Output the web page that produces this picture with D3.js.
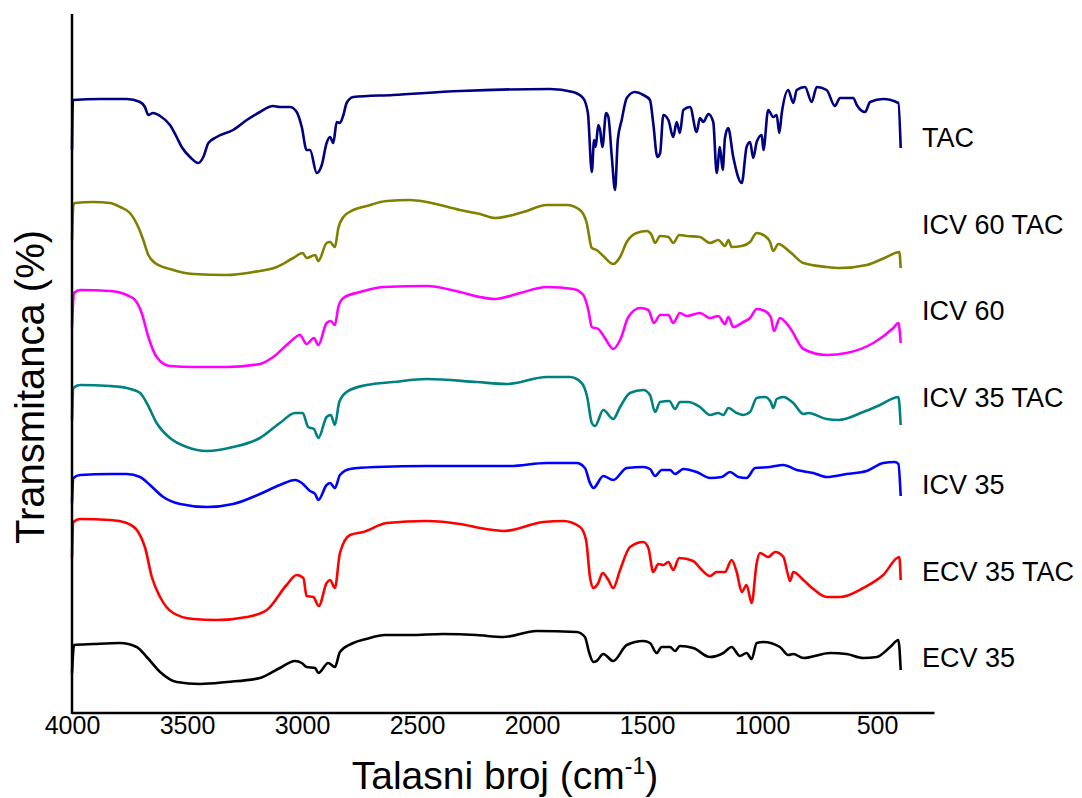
<!DOCTYPE html>
<html>
<head>
<meta charset="utf-8">
<script src="https://cdn.jsdelivr.net/npm/d3@7"></script>
<style>
  html, body { margin: 0; padding: 0; background: #fff; }
  svg { display: block; font-family: "Liberation Sans", Arial, sans-serif; }
</style>
</head>
<body>
<svg id="chart" width="1082" height="798"></svg>
<script>
// FTIR spectra, stacked: [wavenumber (cm-1), transmittance (a.u., offset)]
const seriesNames = ["TAC", "ICV 60 TAC", "ICV 60", "ICV 35 TAC", "ICV 35", "ECV 35 TAC", "ECV 35"];
const seriesColors = ["#000080", "#808000", "#ff00ff", "#008080", "#0000ff", "#ff0000", "#000000"];
const wavenumberTicks = [4000, 3500, 3000, 2500, 2000, 1500, 1000, 500];

const tac = [[4000,564],[3996,614],[3878,615],[3762,615],[3704,612],[3683,607],[3668,599],[3648,601],[3617,598],[3574,589],[3545,577],[3523,567],[3487,557],[3451,551],[3429,557],[3407,571],[3371,577],[3300,584],[3240,594],[3183,602],[3126,608],[3096,607],[3052,607],[3023,602],[3001,587],[2980,564],[2965,564],[2936,541],[2914,549],[2893,571],[2878,577],[2864,571],[2849,592],[2835,591],[2820,599],[2806,611],[2777,617],[2604,619],[2313,623],[1922,625],[1822,622],[1778,616],[1757,601],[1740,542],[1730,574],[1723,567],[1712,589],[1704,584],[1694,567],[1678,601],[1668,597],[1653,557],[1639,524],[1627,574],[1610,594],[1588,616],[1553,622],[1516,619],[1487,614],[1473,591],[1455,557],[1443,561],[1429,599],[1407,594],[1386,577],[1371,592],[1357,581],[1342,604],[1313,607],[1284,582],[1270,596],[1255,592],[1233,600],[1212,592],[1197,541],[1183,567],[1171,544],[1161,576],[1147,586],[1125,557],[1088,531],[1067,567],[1052,572],[1038,556],[1023,572],[1001,579],[994,564],[973,604],[951,597],[936,599],[925,581],[914,601],[886,624],[864,611],[849,624],[813,627],[784,612],[762,627],[719,624],[683,608],[661,616],[603,616],[588,609],[552,602],[530,612],[473,615],[407,611],[397,566]];

const icv60tac = [[4000,474],[3994,509],[3987,511],[3907,512],[3835,511],[3791,507],[3748,501],[3712,487],[3690,474],[3668,459],[3639,451],[3574,445],[3473,440],[3327,439],[3212,442],[3110,447],[3038,456],[2997,461],[2980,456],[2943,459],[2929,453],[2893,471],[2878,472],[2857,467],[2842,486],[2820,497],[2777,504],[2719,508],[2632,513],[2530,514],[2458,512],[2313,504],[2226,500],[2160,496],[2038,502],[1936,509],[1849,509],[1791,504],[1762,491],[1740,466],[1719,464],[1690,458],[1647,450],[1617,457],[1588,472],[1545,481],[1501,483],[1480,479],[1465,471],[1443,478],[1407,477],[1386,471],[1360,479],[1327,478],[1270,477],[1226,471],[1190,474],[1161,468],[1146,474],[1132,467],[1088,468],[1052,472],[1023,481],[987,478],[965,472],[951,463],[929,470],[878,462],[820,451],[719,447],[661,446],[545,449],[458,457],[403,462],[397,446]];

const icv60 = [[4000,387],[3991,421],[3965,424],[3835,423],[3762,419],[3726,414],[3697,401],[3668,377],[3632,357],[3574,348],[3473,347],[3327,347],[3183,350],[3125,357],[3052,372],[3009,379],[2980,370],[2948,376],[2929,369],[2893,391],[2875,393],[2857,389],[2842,407],[2820,416],[2748,422],[2646,427],[2458,428],[2313,422],[2226,417],[2160,415],[2052,421],[1936,427],[1820,425],[1777,419],[1755,404],[1740,387],[1712,385],[1683,376],[1647,365],[1617,374],[1581,397],[1530,406],[1494,404],[1470,391],[1443,399],[1407,399],[1386,391],[1357,401],[1327,398],[1270,401],[1226,396],[1190,398],[1161,390],[1146,397],[1125,387],[1081,392],[1052,396],[1023,405],[987,403],[962,397],[948,383],[922,396],[878,386],[820,365],[719,359],[632,361],[516,371],[429,386],[407,391],[397,371]];

const icv35tac = [[4000,294],[3994,326],[3965,329],[3835,328],[3762,326],[3704,321],[3675,311],[3632,291],[3574,276],[3501,267],[3414,263],[3299,267],[3183,276],[3096,291],[3030,301],[2997,301],[2973,287],[2948,285],[2929,276],[2893,297],[2875,299],[2857,289],[2838,312],[2806,322],[2719,329],[2603,332],[2458,335],[2240,332],[2110,330],[1936,337],[1835,337],[1784,331],[1760,317],[1740,291],[1726,288],[1690,304],[1647,295],[1617,307],[1574,321],[1516,324],[1487,319],[1465,302],[1443,312],[1403,313],[1378,305],[1357,312],[1320,312],[1270,307],[1226,299],[1190,301],[1168,299],[1146,306],[1110,301],[1081,299],[1052,302],[1023,316],[987,317],[962,312],[951,306],[936,315],[907,317],[864,311],[820,300],[799,301],[719,295],[668,294],[560,302],[487,309],[407,317],[397,289]];

const icv35 = [[4000,211],[3994,236],[3965,239],[3835,240],[3762,240],[3704,237],[3661,229],[3603,217],[3530,210],[3414,207],[3299,210],[3183,220],[3096,229],[3030,234],[3001,231],[2965,223],[2943,220],[2929,214],[2893,229],[2878,231],[2857,226],[2835,239],[2791,245],[2675,247],[2458,248],[2096,248],[1936,251],[1806,251],[1770,246],[1748,231],[1733,226],[1690,238],[1647,234],[1588,246],[1516,247],[1487,245],[1465,238],[1436,244],[1400,244],[1378,240],[1342,245],[1284,242],[1226,236],[1175,237],[1139,242],[1103,237],[1067,236],[1030,246],[965,247],[907,249],[849,244],[777,241],[719,237],[632,240],[545,243],[473,251],[422,252],[407,250],[397,218]];

const ecv35tac = [[4000,156],[3994,192],[3965,195],[3835,194],[3762,191],[3712,182],[3683,167],[3653,137],[3617,117],[3560,101],[3473,95],[3371,94],[3240,97],[3153,104],[3067,129],[3023,139],[2994,136],[2980,118],[2951,117],[2927,108],[2893,131],[2878,134],[2857,126],[2835,161],[2791,179],[2733,182],[2632,191],[2458,193],[2313,190],[2226,186],[2168,184],[2125,183],[1951,192],[1864,193],[1791,187],[1765,174],[1748,137],[1733,126],[1712,131],[1693,141],[1668,134],[1647,126],[1617,144],[1574,167],[1516,172],[1494,166],[1473,142],[1451,150],[1429,149],[1407,152],[1386,144],[1360,156],[1299,153],[1270,146],[1226,138],[1197,142],[1161,142],[1132,154],[1110,142],[1088,122],[1067,129],[1045,111],[1023,151],[1009,161],[973,157],[943,162],[907,157],[890,142],[878,133],[864,142],[820,134],[777,125],[719,117],[661,117],[560,126],[473,139],[403,157],[397,134]];

const ecv35 = [[4000,41],[3991,69],[3907,70],[3791,71],[3719,67],[3675,57],[3617,42],[3545,32],[3443,30],[3327,32],[3183,36],[3096,46],[3030,53],[3001,51],[2980,47],[2943,46],[2929,41],[2886,51],[2857,47],[2835,62],[2777,71],[2720,75],[2640,79],[2530,79],[2386,80],[2240,79],[2125,77],[1980,83],[1806,82],[1770,77],[1751,61],[1733,52],[1719,53],[1690,60],[1647,53],[1588,69],[1516,73],[1487,71],[1458,61],[1436,67],[1400,67],[1378,63],[1357,68],[1299,66],[1226,57],[1168,61],[1132,67],[1096,58],[1067,61],[1045,55],[1023,71],[994,72],[922,67],[886,59],[864,60],[820,56],[704,61],[632,60],[560,56],[501,57],[443,67],[407,74],[397,44]];

const seriesData = [tac, icv60tac, icv60, icv35tac, icv35, ecv35tac, ecv35];

const svg = d3.select("#chart");
const plot = { left: 72, right: 934.5, top: 14, bottom: 713 };

const x = d3.scaleLinear().domain([4000, 250]).range([plot.left, plot.right]);
const y = d3.scaleLinear().domain([0, 700]).range([714, 14]);

// spectra
const line = d3.line()
  .x(d => x(d[0]))
  .y(d => y(d[1]))
  .curve(d3.curveMonotoneX);

svg.append("g")
  .selectAll("path")
  .data(seriesData)
  .join("path")
  .attr("d", line)
  .attr("fill", "none")
  .attr("stroke", (d, i) => seriesColors[i])
  .attr("stroke-width", 2.6)
  .attr("stroke-linejoin", "round");

// x axis: labels only, no tick marks
const xAxis = d3.axisBottom(x)
  .tickValues(wavenumberTicks)
  .tickFormat(d3.format("d"))
  .tickSize(0)
  .tickPadding(3);

const gx = svg.append("g")
  .attr("transform", `translate(0,${plot.bottom})`)
  .call(xAxis);
gx.select(".domain")
  .attr("d", `M${plot.left},0H${plot.right}`)
  .attr("stroke", "#000")
  .attr("stroke-width", 2.5);
gx.selectAll(".tick text")
  .attr("font-family", "'Liberation Sans', Arial, sans-serif")
  .attr("font-size", 25)
  .attr("fill", "#000");

// left axis line (no ticks)
svg.append("line")
  .attr("x1", plot.left).attr("x2", plot.left)
  .attr("y1", plot.top).attr("y2", plot.bottom + 1)
  .attr("stroke", "#000")
  .attr("stroke-width", 2.5);

// series labels
svg.append("g")
  .selectAll("text")
  .data(seriesNames)
  .join("text")
  .attr("x", 922)
  .attr("y", (d, i) => 147 + i * 86.7)
  .attr("font-size", 27)
  .attr("fill", "#000")
  .text(d => d);

// axis titles
const xt = svg.append("text")
  .attr("x", 505)
  .attr("y", 789)
  .attr("text-anchor", "middle")
  .attr("font-size", 39)
  .attr("fill", "#000");
xt.append("tspan").text("Talasni broj (cm");
xt.append("tspan").attr("dy", -15).attr("font-size", 23).text("-1");
xt.append("tspan").attr("dy", 15).text(")");

svg.append("text")
  .attr("transform", "translate(44,387) rotate(-90)")
  .attr("text-anchor", "middle")
  .attr("font-size", 40)
  .attr("fill", "#000")
  .text("Transmitanca (%)");
</script>
</body>
</html>
